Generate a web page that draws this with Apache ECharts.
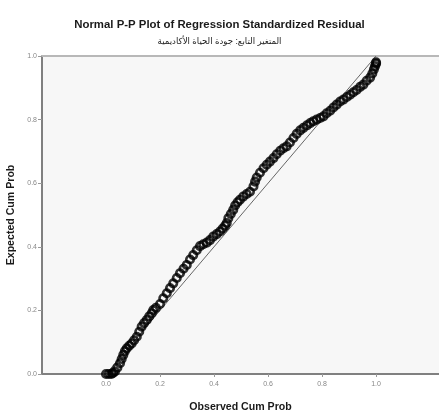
<!DOCTYPE html>
<html>
<head>
<meta charset="utf-8">
<script src="https://cdn.jsdelivr.net/npm/echarts@6/dist/echarts.min.js"></script>
<style>
  html, body { margin: 0; padding: 0; background: #fff; }
  #main { width: 439px; height: 416px; }
</style>
</head>
<body>
<div id="main"></div>
<script>
// observed cum prob (x) / expected cum prob (y)
var observed = [0, 0.01, 0.02, 0.026, 0.033, 0.042, 0.052, 0.058, 0.064, 0.070,
  0.077, 0.086, 0.095, 0.104, 0.114, 0.123, 0.132, 0.141, 0.151, 0.160,
  0.169, 0.175, 0.185, 0.200, 0.212, 0.225, 0.237, 0.249, 0.262, 0.274,
  0.287, 0.299, 0.311, 0.323, 0.336, 0.348, 0.360, 0.373, 0.385, 0.397,
  0.410, 0.422, 0.432, 0.441, 0.447, 0.453, 0.462, 0.471, 0.478, 0.487,
  0.496, 0.508, 0.521, 0.533, 0.546, 0.552, 0.558, 0.570, 0.583, 0.595,
  0.607, 0.620, 0.632, 0.645, 0.657, 0.669, 0.681, 0.694, 0.706, 0.719,
  0.731, 0.744, 0.756, 0.768, 0.780, 0.793, 0.805, 0.817, 0.830, 0.842,
  0.854, 0.867, 0.879, 0.892, 0.904, 0.916, 0.928, 0.941, 0.953, 0.965,
  0.978, 0.986, 0.992, 0.996, 1.0, 1.0];
var expected = [0, 0, 0, 0.003, 0.008, 0.020, 0.034, 0.047, 0.060, 0.072,
  0.081, 0.089, 0.096, 0.106, 0.117, 0.133, 0.149, 0.160, 0.170, 0.181,
  0.191, 0.201, 0.208, 0.220, 0.238, 0.254, 0.270, 0.285, 0.302, 0.317,
  0.331, 0.343, 0.360, 0.374, 0.389, 0.402, 0.408, 0.413, 0.421, 0.432,
  0.440, 0.448, 0.457, 0.466, 0.475, 0.490, 0.503, 0.516, 0.530, 0.540,
  0.548, 0.558, 0.566, 0.573, 0.590, 0.605, 0.618, 0.633, 0.647, 0.658,
  0.668, 0.679, 0.691, 0.702, 0.710, 0.716, 0.728, 0.742, 0.755, 0.766,
  0.774, 0.782, 0.789, 0.795, 0.800, 0.805, 0.810, 0.820, 0.828, 0.838,
  0.847, 0.857, 0.863, 0.871, 0.878, 0.886, 0.893, 0.903, 0.910, 0.922,
  0.932, 0.945, 0.958, 0.968, 0.976, 0.980];
// reference diagonal
var refX = [0, 1];
var refY = [0, 1];
var ticks = [0, 0.2, 0.4, 0.6, 0.8, 1.0];

var titleText = 'Normal P-P Plot of Regression Standardized Residual';
var subText = 'المتغير التابع: جودة الحياة الأكاديمية';

var font = "'Liberation Sans', Arial, 'DejaVu Sans', sans-serif";

var points = observed.map(function (x, i) { return [x, expected[i]]; });
var diag = refX.map(function (x, i) { return [x, refY[i]]; });

var chart = echarts.init(document.getElementById('main'), null, { renderer: 'canvas' });

var labelFmt = function (v) { return v.toFixed(1); };

chart.setOption({
  animation: false,
  textStyle: { fontFamily: font },
  title: {
    text: titleText,
    subtext: subText,
    left: 'center',
    top: 14,
    itemGap: 7,
    textStyle: { fontSize: 11.4, fontWeight: 'bold', color: '#1a1a1a', fontFamily: font },
    subtextStyle: { fontSize: 8.6, color: '#1a1a1a', fontFamily: font }
  },
  grid: {
    left: 42, right: 0, top: 56, bottom: 42,
    show: true,
    backgroundColor: '#f7f7f7',
    borderWidth: 0,
    outerBoundsMode: 'none'
  },
  xAxis: [{
    type: 'value',
    min: -0.237, max: 1.233,
    name: 'Observed Cum Prob',
    nameLocation: 'middle',
    nameGap: 28,
    nameTextStyle: { fontSize: 10.6, fontWeight: 'bold', color: '#1a1a1a' },
    axisLine: { show: true, lineStyle: { color: '#808080', width: 2 } },
    axisTick: { show: true, length: 3, customValues: ticks, lineStyle: { color: '#999' } },
    axisLabel: { customValues: ticks, formatter: labelFmt, fontSize: 7, color: '#888', margin: 7 },
    splitLine: { show: false }
  }, {
    type: 'value',
    position: 'top',
    min: -0.237, max: 1.233,
    axisLine: { show: true, onZero: false, lineStyle: { color: '#b8b8b8', width: 2 } },
    axisTick: { show: false },
    axisLabel: { show: false },
    splitLine: { show: false }
  }],
  yAxis: {
    type: 'value',
    min: 0, max: 1, interval: 0.2,
    name: 'Expected Cum Prob',
    nameLocation: 'middle',
    nameGap: 22,
    nameTextStyle: { fontSize: 10.6, fontWeight: 'bold', color: '#1a1a1a' },
    axisLine: { show: true, onZero: false, lineStyle: { color: '#808080', width: 2 } },
    axisTick: { show: true, length: 4, lineStyle: { color: '#999' } },
    axisLabel: { formatter: labelFmt, fontSize: 7, color: '#888', margin: 5 },
    splitLine: { show: false }
  },
  series: [{
    type: 'line',
    data: diag,
    symbol: 'none',
    lineStyle: { color: '#666', width: 1 },
    silent: true,
    z: 1
  }, {
    type: 'scatter',
    data: points,
    symbol: 'circle',
    symbolSize: 7.5,
    itemStyle: { color: 'rgba(0,0,0,0)', borderColor: '#000', borderWidth: 2.6 },
    z: 2
  }]
});
</script>
</body>
</html>
